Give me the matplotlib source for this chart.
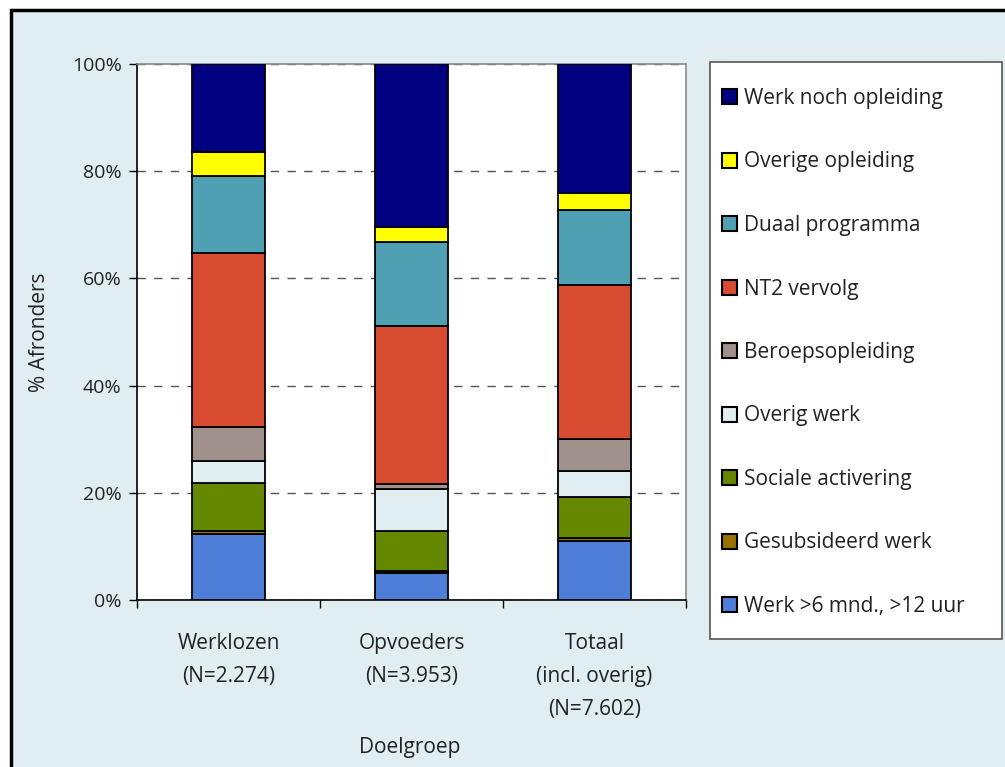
import matplotlib.pyplot as plt
from matplotlib.patches import Rectangle, Patch
from matplotlib.ticker import FixedLocator, PercentFormatter

plt.rcParams['font.family'] = ['Open Sans', 'DejaVu Sans']

# --- data ---
groups = ['Werklozen\n(N=2.274)', 'Opvoeders\n(N=3.953)', 'Totaal\n(incl. overig)\n(N=7.602)']
series = ['Werk >6 mnd., >12 uur', 'Gesubsideerd werk', 'Sociale activering',
          'Overig werk', 'Beroepsopleiding', 'NT2 vervolg', 'Duaal programma',
          'Overige opleiding', 'Werk noch opleiding']
werk_6mnd = [12.3, 5.1, 11.1]
gesubsidieerd = [0.6, 0.4, 0.4]
sociale_act = [9.0, 7.4, 7.8]
overig_werk = [4.1, 7.8, 4.7]
beroepsopl = [6.3, 0.9, 6.1]
nt2_vervolg = [32.5, 29.5, 28.7]
duaal = [14.3, 15.6, 13.9]
overige_opl = [4.4, 2.9, 3.3]
werk_noch = [16.5, 30.4, 24.0]
values = [werk_6mnd, gesubsidieerd, sociale_act, overig_werk, beroepsopl,
          nt2_vervolg, duaal, overige_opl, werk_noch]
colors = ['#4f7ed9', '#997300', '#668800', '#e0eef2', '#a0918c',
          '#d84c31', '#4fa0b3', '#ffff00', '#000080']

bg = '#e0eef2'
txt = '#222222'
W, H = 1005, 767
fig = plt.figure(figsize=(W / 100, H / 100), dpi=100)
fig.patch.set_facecolor('white')

# chart area frame (cut off at right and bottom, as in the source) + legend box
bg_ax = fig.add_axes([0, 0, 1, 1], zorder=0)
bg_ax.set_axis_off()
bg_ax.add_patch(Rectangle((11 / W, -0.05), 1.05, 1.05 - 10 / H,
                          transform=bg_ax.transAxes, facecolor=bg,
                          edgecolor='black', linewidth=2.5, clip_on=False))
bg_ax.add_patch(Rectangle((710 / W, 1 - 639 / H), 292 / W, 577 / H,
                          transform=bg_ax.transAxes, facecolor='white',
                          edgecolor='#555555', linewidth=1.2))

ax = fig.add_axes([137 / W, 1 - 600 / H, 549 / W, 536 / H], zorder=2)
ax.set_facecolor('white')

x = range(len(groups))
bottom = [0.0] * len(groups)
for name, vals, col in zip(series, values, colors):
    ax.bar(x, vals, width=0.4, bottom=bottom, color=col, edgecolor='black',
           linewidth=1.3, label=name, zorder=3)
    bottom = [b + v for b, v in zip(bottom, vals)]

ax.set_xlim(-0.5, 2.5)
ax.set_ylim(0, 100)
ax.yaxis.set_major_locator(FixedLocator([0, 20, 40, 60, 80, 100]))
ax.yaxis.set_major_formatter(PercentFormatter(decimals=0))
ax.grid(axis='y', color='#555555', linestyle=(0, (6, 6)), linewidth=1, zorder=1)

ax.set_xticks(list(x))
ax.set_xticklabels(groups, fontsize=15, color=txt, linespacing=1.74)
ax.set_xticks([-0.5, 0.5, 1.5, 2.5], minor=True)
ax.tick_params(axis='x', which='major', length=0, pad=24)
ax.tick_params(axis='x', which='minor', length=6, direction='out', width=1)
ax.tick_params(axis='y', length=6, direction='out', width=1, labelsize=14,
               labelcolor=txt, pad=5)

for s in ['left', 'bottom']:
    ax.spines[s].set_color('black')
    ax.spines[s].set_linewidth(1.2)
for s in ['top', 'right']:
    ax.spines[s].set_color('#888888')
    ax.spines[s].set_linewidth(1.2)

ax.set_ylabel('% Afronders', fontsize=15, color=txt, labelpad=16)
fig.text(410 / W, 1 - 747 / H, 'Doelgroep', ha='center', va='center',
         fontsize=15, color=txt, zorder=3)

handles = [Patch(facecolor=c, edgecolor='black', linewidth=1.5) for c in colors][::-1]
leg = fig.legend(handles, series[::-1], loc='upper left',
                 bbox_to_anchor=(722 / W, 1 - 88 / H), fontsize=15,
                 frameon=False, handlelength=0.7, handleheight=0.7,
                 handletextpad=0.35, labelspacing=2.04, borderpad=0,
                 borderaxespad=0)
leg.set_zorder(5)
for t in leg.get_texts():
    t.set_color(txt)

fig.savefig('out.png', dpi=100, facecolor=fig.get_facecolor())
